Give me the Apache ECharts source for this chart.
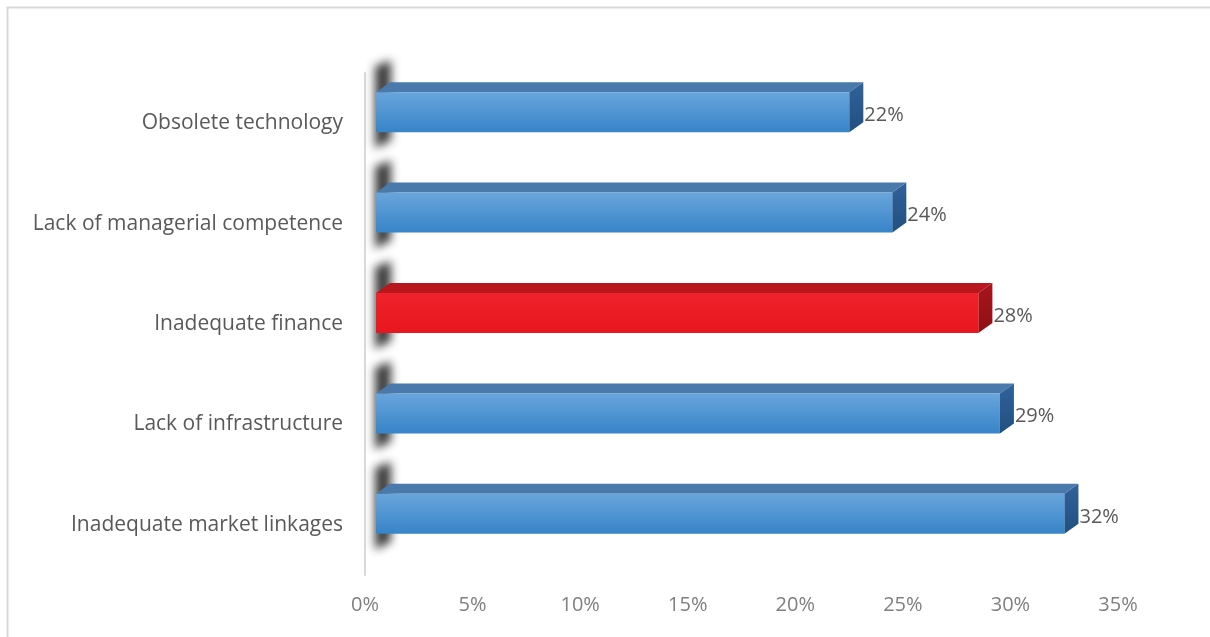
<!DOCTYPE html>
<html><head><meta charset="utf-8">
<script src="https://cdn.jsdelivr.net/npm/echarts@6/dist/echarts.min.js"></script>
<style>html,body{margin:0;padding:0;background:#fff}#c{width:1210px;height:637px}</style>
</head><body><div id="c"></div>
<script>
const categories = ['Obsolete technology','Lack of managerial competence','Inadequate finance','Lack of infrastructure','Inadequate market linkages'];
const values = [22, 24, 28, 29, 32];
const highlightIndex = 2;

const chart = echarts.init(document.getElementById('c'), null, {renderer:'canvas'});
const FONT = '"Open Sans", sans-serif';

function renderItem(params, api){
  const idx = api.value(1);
  const val = api.value(0);
  const p0 = api.coord([0, idx]);
  const p1 = api.coord([val, idx]);
  const off = 11, dx = 14, dy = 10, h = 40;
  const cy = p0[1] - 11;
  const x0 = p0[0] + off, x1 = p1[0] + off;
  const yt = cy - h/2, yb = cy + h/2;
  const red = idx === highlightIndex;
  const frontFill = red ? new echarts.graphic.LinearGradient(0,0,0,1,[{offset:0,color:'#f0222b'},{offset:1,color:'#e8161f'}])
                        : new echarts.graphic.LinearGradient(0,0,0,1,[{offset:0,color:'#69a5dc'},{offset:1,color:'#3784c8'}]);
  const topFill = red ? '#b8171d' : '#4a7aab';
  const sideFill = red ? new echarts.graphic.LinearGradient(0,0,0,1,[{offset:0,color:'#a8151a'},{offset:1,color:'#8e1015'}])
                       : new echarts.graphic.LinearGradient(0,0,0,1,[{offset:0,color:'#30629a'},{offset:1,color:'#214f80'}]);
  const shift = 3000;
  return {
    type:'group',
    children:[
      {type:'polygon', shape:{points:[[x0-1-shift, yt-dy-16],[x0+dx+1-shift, yt-dy-22],[x0+dx+1-shift, yb+8],[x0-1-shift, yb+16]]},
        style:{fill:'#000', shadowBlur:10, shadowColor:'rgba(40,40,40,0.9)', shadowOffsetX:shift, shadowOffsetY:0}},
      {type:'polygon', shape:{points:[[x0, yt],[x0+dx, yt-dy],[x1+dx, yt-dy],[x1, yt]]}, style:{fill:topFill}},
      {type:'rect', shape:{x:x0, y:yt, width:x1-x0, height:h}, style:{fill:frontFill}},
      {type:'polygon', shape:{points:[[x1, yt],[x1+dx, yt-dy],[x1+dx, yb-dy],[x1, yb]]}, style:{fill:sideFill}},
      {type:'text', x:x1+dx+1, y:cy+3, style:{text:Math.round(val)+'%', fill:'#595959', font:'20px '+FONT, textAlign:'left', textVerticalAlign:'middle'}}
    ]
  };
}

chart.setOption({
  animation:false,
  backgroundColor:'#fff',
  graphic:[{type:'rect', shape:{x:7.5, y:7.5, width:1400, height:800}, style:{fill:'none', stroke:'#d9d9d9', lineWidth:2}, silent:true, z:-1}],
  grid:{left:365, right:92, top:73, bottom:62, containLabel:false},
  xAxis:{type:'value', min:0, max:35, interval:5,
    axisLabel:{formatter:'{value}%', color:'#7f7f7f', fontSize:20, fontFamily:FONT, margin:20},
    axisLine:{show:false}, axisTick:{show:false}, splitLine:{show:false}},
  yAxis:{type:'category', data:categories, inverse:true,
    axisLine:{show:true, lineStyle:{color:'#d9d9d9', width:2}}, axisTick:{show:false},
    axisLabel:{color:'#595959', fontSize:21, fontFamily:FONT, margin:22}},
  series:[{type:'custom', renderItem:renderItem, encode:{x:0, y:1},
    data:values.map((v,i)=>[v,i]), clip:false}]
});
</script></body></html>
